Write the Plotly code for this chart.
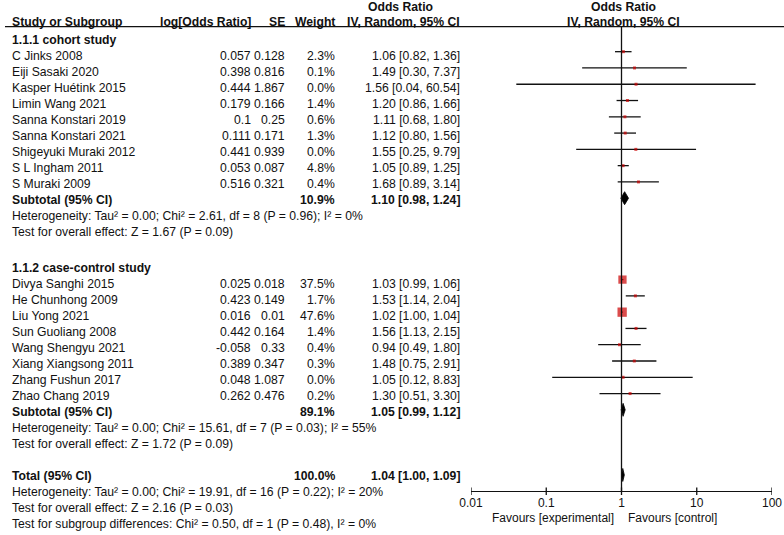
import math
import plotly.graph_objects as go

# ---------------- data ----------------
cohort_names = ["C Jinks 2008", "Eiji Sasaki 2020", "Kasper Huétink 2015", "Limin Wang 2021",
                "Sanna Konstari 2019", "Sanna Konstari 2021", "Shigeyuki Muraki 2012",
                "S L Ingham 2011", "S Muraki 2009"]
cohort_logor = [0.057, 0.398, 0.444, 0.179, 0.1, 0.111, 0.441, 0.053, 0.516]
cohort_se = [0.128, 0.816, 1.867, 0.166, 0.25, 0.171, 0.939, 0.087, 0.321]
cohort_weight = [2.3, 0.1, 0.0, 1.4, 0.6, 1.3, 0.0, 4.8, 0.4]
cohort_or = [1.06, 1.49, 1.56, 1.20, 1.11, 1.12, 1.55, 1.05, 1.68]
cohort_lo = [0.82, 0.30, 0.04, 0.86, 0.68, 0.80, 0.25, 0.89, 0.89]
cohort_hi = [1.36, 7.37, 60.54, 1.66, 1.80, 1.56, 9.79, 1.25, 3.14]

cc_names = ["Divya Sanghi 2015", "He Chunhong 2009", "Liu Yong 2021", "Sun Guoliang 2008",
            "Wang Shengyu 2021", "Xiang Xiangsong 2011", "Zhang Fushun 2017", "Zhao Chang 2019"]
cc_logor = [0.025, 0.423, 0.016, 0.442, -0.058, 0.389, 0.048, 0.262]
cc_se = [0.018, 0.149, 0.01, 0.164, 0.33, 0.347, 1.087, 0.476]
cc_weight = [37.5, 1.7, 47.6, 1.4, 0.4, 0.3, 0.0, 0.2]
cc_or = [1.03, 1.53, 1.02, 1.56, 0.94, 1.48, 1.05, 1.30]
cc_lo = [0.99, 1.14, 1.00, 1.13, 0.49, 0.75, 0.12, 0.51]
cc_hi = [1.06, 2.04, 1.04, 2.15, 1.80, 2.91, 8.83, 3.30]

group_titles = ["1.1.1 cohort study", "1.1.2 case-control study"]
subtotal_weight = [10.9, 89.1]
subtotal_or = [1.10, 1.05]
subtotal_lo = [0.98, 0.99]
subtotal_hi = [1.24, 1.12]
subtotal_het = ["Heterogeneity: Tau² = 0.00; Chi² = 2.61, df = 8 (P = 0.96); I² = 0%",
                "Heterogeneity: Tau² = 0.00; Chi² = 15.61, df = 7 (P = 0.03); I² = 55%"]
subtotal_test = ["Test for overall effect: Z = 1.67 (P = 0.09)",
                 "Test for overall effect: Z = 1.72 (P = 0.09)"]

total_weight = 100.0
total_or = 1.04
total_lo = 1.00
total_hi = 1.09
total_lines = ["Heterogeneity: Tau² = 0.00; Chi² = 19.91, df = 16 (P = 0.22); I² = 20%",
               "Test for overall effect: Z = 2.16 (P = 0.03)",
               "Test for subgroup differences: Chi² = 0.50, df = 1 (P = 0.48), I² = 0%"]

tick_vals = [0.01, 0.1, 1, 10, 100]
tick_text = ["0.01", "0.1", "1", "10", "100"]
favours_left = "Favours [experimental]"
favours_right = "Favours [control]"

# ---------------- layout helpers ----------------
W, H = 784, 535
FONT = "Liberation Sans, Arial, Helvetica, sans-serif"
FS = 12.2
TXT = "#111111"
RED = "#cc0000"


def text_y(k):
    return 39.5 + 16 * k + (4 if k >= 14 else 0)


def mark_y(k):
    return 35.4 + 16.28 * k


def px(x):
    return x / W


annotations = []


def add_text(x_px, y, text, anchor="left", bold=False, size=FS):
    if bold:
        text = "<b>" + text + "</b>"
    annotations.append(dict(
        x=px(x_px), xref="paper", y=y, yref="y", text=text, showarrow=False,
        xanchor=anchor, yanchor="middle", borderpad=0,
        font=dict(family=FONT, size=size, color=TXT)))


X_NAME, X_LOG, X_SE, X_W, X_CI = 10.5, 252, 286, 336, 461


def fmt_ci(o, lo, hi):
    return f"{o:.2f} [{lo:.2f}, {hi:.2f}]"


# headers
add_text(400, 7, "Odds Ratio", "center", True)
add_text(X_NAME, 21.5, "Study or Subgroup", "left", True)
add_text(X_LOG, 21.5, "log[Odds Ratio]", "right", True)
add_text(X_SE, 21.5, "SE", "right", True)
add_text(X_W, 21.5, "Weight", "right", True)
add_text(X_CI, 21.5, "IV, Random, 95% CI", "right", True)
add_text(623, 7, "Odds Ratio", "center", True)
add_text(623, 21.5, "IV, Random, 95% CI", "center", True)

groups = [
    (cohort_names, cohort_logor, cohort_se, cohort_weight, cohort_or, cohort_lo, cohort_hi, 0),
    (cc_names, cc_logor, cc_se, cc_weight, cc_or, cc_lo, cc_hi, 14),
]

ci_x, ci_y = [], []
sq_x, sq_y, sq_s = [], [], []
diamonds = []

for gi, (names, lg, se, wt, orr, lo, hi, start) in enumerate(groups):
    add_text(X_NAME, text_y(start), group_titles[gi], "left", True)
    for i in range(len(names)):
        k = start + 1 + i
        ty = text_y(k)
        add_text(X_NAME, ty, names[i])
        add_text(X_LOG, ty, str(lg[i]), "right")
        add_text(X_SE, ty, str(se[i]), "right")
        add_text(X_W, ty, f"{wt[i]:.1f}%", "right")
        add_text(X_CI, ty, fmt_ci(orr[i], lo[i], hi[i]), "right")
        my = mark_y(k)
        ci_x += [lo[i], hi[i], None]
        ci_y += [my, my, None]
        sq_x.append(orr[i])
        sq_y.append(my)
        sq_s.append(max(3.0, 1.35 * math.sqrt(wt[i])))
    ks = start + 1 + len(names)
    add_text(X_NAME, text_y(ks), "Subtotal (95% CI)", "left", True)
    add_text(X_W, text_y(ks), f"{subtotal_weight[gi]:.1f}%", "right", True)
    add_text(X_CI, text_y(ks), fmt_ci(subtotal_or[gi], subtotal_lo[gi], subtotal_hi[gi]), "right", True)
    add_text(X_NAME, text_y(ks + 1), subtotal_het[gi])
    add_text(X_NAME, text_y(ks + 2), subtotal_test[gi])
    diamonds.append((subtotal_lo[gi], subtotal_or[gi], subtotal_hi[gi], mark_y(ks)))

kt = 27
add_text(X_NAME, text_y(kt), "Total (95% CI)", "left", True)
add_text(X_W, text_y(kt), f"{total_weight:.1f}%", "right", True)
add_text(X_CI, text_y(kt), fmt_ci(total_or, total_lo, total_hi), "right", True)
for j, line in enumerate(total_lines):
    add_text(X_NAME, text_y(kt + 1 + j), line)
diamonds.append((total_lo, total_or, total_hi, mark_y(kt)))

AXIS_Y = 491
add_text(615, 517.5, favours_left, "right", size=12)
add_text(627, 517.5, favours_right, "left", size=12)

fig = go.Figure()

fig.add_trace(go.Scatter(x=ci_x, y=ci_y, mode="lines",
                         line=dict(color="#111111", width=1.3),
                         hoverinfo="skip", showlegend=False))
fig.add_trace(go.Scatter(x=sq_x, y=sq_y, mode="markers",
                         marker=dict(symbol="square", size=sq_s, color=RED,
                                     line=dict(width=0)),
                         hoverinfo="skip", showlegend=False))
DH = 6.5
for lo, est, hi, yc in diamonds:
    fig.add_trace(go.Scatter(x=[lo, est, hi, est, lo], y=[yc, yc - DH, yc, yc + DH, yc],
                             mode="lines", fill="toself", fillcolor="#000000",
                             line=dict(color="#000000", width=0.8),
                             hoverinfo="skip", showlegend=False))

shapes = [
    # header rule
    dict(type="line", xref="paper", yref="y", x0=px(5), x1=1, y0=26.7, y1=26.7,
         line=dict(color="#111111", width=1.3)),
    # line of no effect
    dict(type="line", xref="x", yref="y", x0=1, x1=1, y0=26.7, y1=AXIS_Y,
         line=dict(color="#111111", width=1.3)),
]
for tv in tick_vals:
    shapes.append(dict(type="line", xref="x", yref="y", x0=tv, x1=tv,
                       y0=AXIS_Y - 3.5, y1=AXIS_Y + 4,
                       line=dict(color="#111111", width=1.3)))

fig.update_layout(
    width=W, height=H, autosize=False,
    margin=dict(l=0, r=0, t=0, b=0, pad=0, autoexpand=False),
    paper_bgcolor="white", plot_bgcolor="white",
    showlegend=False, hovermode=False,
    annotations=annotations,
    shapes=shapes,
    xaxis=dict(type="log", range=[-2, 2], domain=[px(471), px(772)],
               anchor="free", position=(H - AXIS_Y) / H, automargin=False,
               showline=True, linecolor="#111111", linewidth=1.3,
               ticks="", tickvals=tick_vals, ticktext=tick_text,
               tickfont=dict(family=FONT, size=12, color=TXT),
               showgrid=False, zeroline=False, fixedrange=True),
    yaxis=dict(range=[H, 0], domain=[0, 1], visible=False, showgrid=False,
               zeroline=False, fixedrange=True, automargin=False),
)

fig.write_html("out.html", config={"displayModeBar": False, "staticPlot": True},
               post_script="document.body.style.margin='0';document.body.style.overflow='hidden';")
